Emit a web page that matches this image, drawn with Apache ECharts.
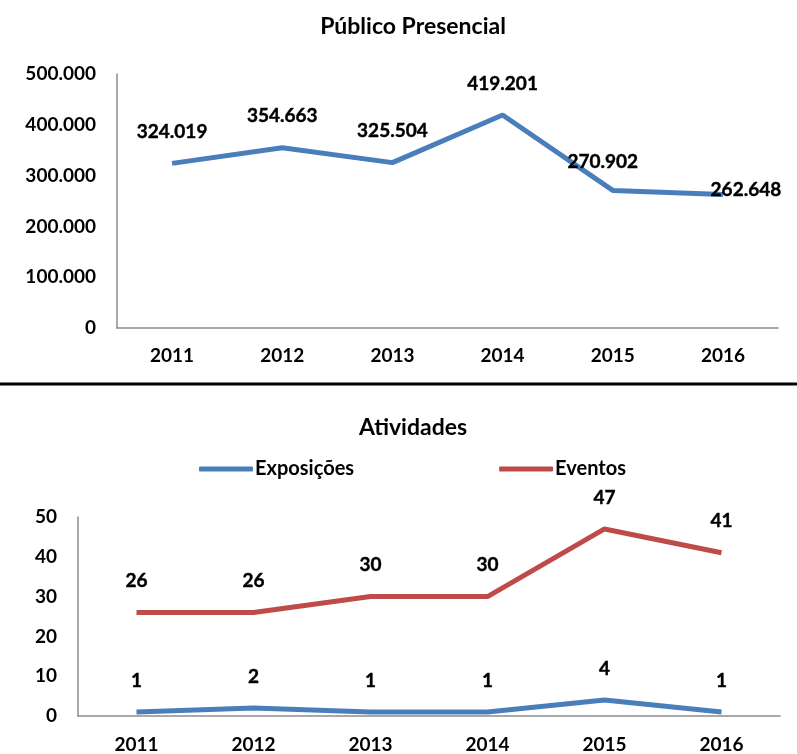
<!DOCTYPE html>
<html>
<head>
<meta charset="utf-8">
<script src="https://cdn.jsdelivr.net/npm/echarts@6/dist/echarts.min.js"></script>
<style>
  html, body { margin: 0; padding: 0; background: #fff; }
  #chart { width: 797px; height: 754px; }
</style>
</head>
<body>
<div id="chart"></div>
<script>
// dados
const anos = ['2011', '2012', '2013', '2014', '2015', '2016']
const publico = [324019, 354663, 325504, 419201, 270902, 262648]
const exposicoes = [1, 2, 1, 1, 4, 1]
const eventos = [26, 26, 30, 30, 47, 41]

const AZUL = '#4a7ebb'
const VERMELHO = '#be4b48'
const FONTE = 'Lato'

function milhar(v) {
  return String(v).replace(/\B(?=(\d{3})+(?!\d))/g, '.')
}

const txt = { fontFamily: FONTE, fontWeight: 700, fontSize: 19, color: '#000' }
const rotulo = { ...txt, textBorderColor: '#000', textBorderWidth: 0.4 }
const eixo = { lineStyle: { color: '#8c8c8c', width: 1.5 } }

// rótulos de 2015 e 2016 ficam deslocados no original
const publicoData = publico.map((v, i) => {
  if (i === 4) return { value: v, label: { offset: [-10, 3] } }
  if (i === 5) return { value: v, label: { offset: [23, 27] } }
  return v
})

const chart = echarts.init(document.getElementById('chart'))

const serieBase = {
  type: 'line', symbol: 'circle', symbolSize: 0, showSymbol: true
}

const option = {
  animation: false,
  title: [
    { text: 'Público Presencial', left: 408, top: 10, textAlign: 'center',
      textStyle: { fontFamily: FONTE, fontWeight: 'bold', fontSize: 23, color: '#000' } },
    { text: 'Atividades', left: 408, top: 411, textAlign: 'center',
      textStyle: { fontFamily: FONTE, fontWeight: 'bold', fontSize: 23, color: '#000' } }
  ],
  legend: {
    data: ['Exposições', 'Eventos'],
    left: 194, top: 454,
    icon: 'roundRect',
    itemWidth: 54, itemHeight: 5,
    itemGap: 145,
    textStyle: { ...txt, fontSize: 20, padding: [0, 0, 0, -3] }
  },
  graphic: [
    { type: 'line', shape: { x1: 0, y1: 384, x2: 797, y2: 384 },
      style: { stroke: '#000', lineWidth: 3 } }
  ],
  grid: [
    { left: 117, top: 74, width: 661, height: 254 },
    { left: 78, top: 517, width: 702, height: 200 }
  ],
  xAxis: [
    { type: 'category', gridIndex: 0, data: anos, boundaryGap: true,
      axisLine: eixo, axisTick: { show: false },
      axisLabel: { ...txt, margin: 18 } },
    { type: 'category', gridIndex: 1, data: anos, boundaryGap: true,
      axisLine: eixo, axisTick: { show: false },
      axisLabel: { ...txt, margin: 19 } }
  ],
  yAxis: [
    { type: 'value', gridIndex: 0, min: 0, max: 500000, interval: 100000,
      axisLine: { show: true, ...eixo }, axisTick: { show: false },
      splitLine: { show: false },
      axisLabel: { ...txt, margin: 21, formatter: milhar } },
    { type: 'value', gridIndex: 1, min: 0, max: 50, interval: 10,
      axisLine: { show: true, ...eixo }, axisTick: { show: false },
      splitLine: { show: false },
      axisLabel: { ...txt, margin: 21 } }
  ],
  series: [
    { ...serieBase, name: 'Público', xAxisIndex: 0, yAxisIndex: 0,
      data: publicoData,
      lineStyle: { color: AZUL, width: 5 }, itemStyle: { color: AZUL },
      label: { show: true, position: 'top', distance: 22, ...rotulo, formatter: p => milhar(p.value) } },
    { ...serieBase, name: 'Exposições', xAxisIndex: 1, yAxisIndex: 1,
      data: exposicoes,
      lineStyle: { color: AZUL, width: 5 }, itemStyle: { color: AZUL },
      label: { show: true, position: 'top', distance: 22, ...rotulo } },
    { ...serieBase, name: 'Eventos', xAxisIndex: 1, yAxisIndex: 1,
      data: eventos,
      lineStyle: { color: VERMELHO, width: 5 }, itemStyle: { color: VERMELHO },
      label: { show: true, position: 'top', distance: 22, ...rotulo } }
  ]
}

chart.setOption(option)
</script>
</body>
</html>
